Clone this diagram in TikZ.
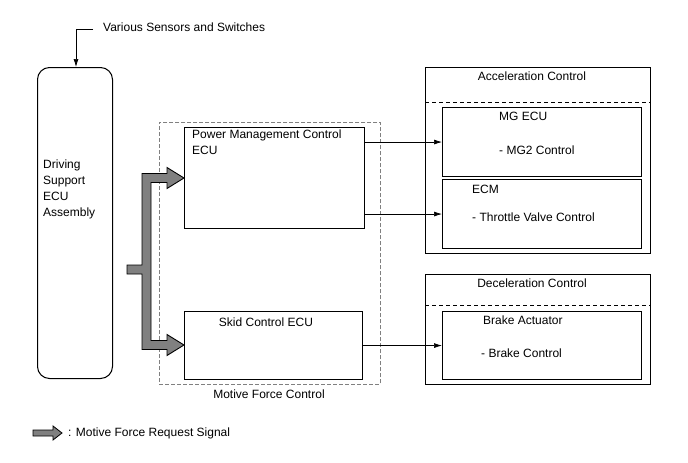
\documentclass[tikz,border=0pt]{standalone}
\usepackage{fontspec}
\setmainfont{Liberation Sans}
\usetikzlibrary{arrows.meta}
\begin{document}
\begin{tikzpicture}[x=1pt,y=-1pt,
  every node/.style={font=\fontsize{12}{16}\selectfont},
  txt/.style={inner sep=0pt, anchor=west},
  boxsty/.style={draw, line width=1.1pt, anchor=north west, inner sep=0pt},
  outersty/.style={draw, line width=0.9pt, anchor=north west, inner sep=0pt},
  conn/.style={line width=0.7pt, -{Latex[length=8pt,width=5pt]}},
  bigarrow/.style={draw=black, line width=0.9pt, fill=black!50, line join=miter}
]
\useasboundingbox (0,0) rectangle (688,463);

% top input label
\node[txt] (sens) at (103,27) {Various Sensors and Switches};

% Driving support ECU
\node[draw, line width=1pt, rounded corners=12pt, anchor=north west, minimum width=75pt, minimum height=311pt, inner sep=0pt] (dsecu) at (37,67) {};
\node[txt, align=left] (dstxt) at (43,189) {Driving\\Support\\ECU\\Assembly};
\coordinate (sensknee) at (76,29);
\draw[line width=0.7pt, -{Latex[length=8pt,width=5pt]}] ([xshift=-10pt]sens.west |- sensknee) -- (sensknee) -- (sensknee |- dsecu.north);

% Motive force control dashed group
\node[draw=black!50, dash pattern=on 4pt off 2pt, line width=0.8pt, anchor=north west, minimum width=221pt, minimum height=262pt, inner sep=0pt] (mfc) at (159,122) {};
\node[inner sep=0pt] (mfclbl) at (269,394) {Motive Force Control};

% PMC ECU
\node[boxsty, minimum width=180pt, minimum height=101pt] (pmc) at (184,127) {};
\node[txt, align=left, anchor=north west] (pmctxt) at (192,130) {Power Management Control\\ECU};

% Skid control ECU
\node[boxsty, minimum width=178pt, minimum height=68pt] (skid) at (184,311) {};
\node[inner sep=0pt] (skidtxt) at (266,322) {Skid Control ECU};

% Acceleration control
\node[outersty, minimum width=225pt, minimum height=186pt] (acc) at (425,67) {};
\node[inner sep=0pt] (acctxt) at (532,76) {Acceleration Control};
\draw[line width=0.8pt, dash pattern=on 4pt off 3pt] (acc.west |- 0,102) coordinate (accsepL) -- (acc.east |- accsepL);

\node[boxsty, minimum width=199pt, minimum height=69pt] (mg) at (442,107) {};
\node[txt] (mgtxt) at (499,116) {MG ECU};
\node[txt] (mg2txt) at (499,150) {- MG2 Control};

\node[boxsty, minimum width=199pt, minimum height=69pt] (ecm) at (442,179) {};
\node[txt] (ecmtxt) at (472,189) {ECM};
\node[txt] (thrtxt) at (472,217) {- Throttle Valve Control};

% Deceleration control
\node[outersty, minimum width=225pt, minimum height=110pt] (dec) at (425,274) {};
\node[inner sep=0pt] (dectxt) at (532,283) {Deceleration Control};
\draw[line width=0.8pt, dash pattern=on 4pt off 3pt] (dec.west |- 0,305) coordinate (decsepL) -- (dec.east |- decsepL);

\node[boxsty, minimum width=199pt, minimum height=68pt] (brake) at (442,311) {};
\node[txt] (braketxt) at (483,320) {Brake Actuator};
\node[txt] (bctxt) at (481,353) {- Brake Control};

% connectors
\draw[conn] (pmc.east |- mg.west) -- (mg.west);
\draw[conn] (pmc.east |- ecm.west) -- (ecm.west);
\draw[conn] (skid.east |- brake.west) -- (brake.west);

% big motive force request arrow
\draw[bigarrow] (127,265) -- (142,265) -- (142,173.5) -- (167,173.5) -- (167,167.5) -- (pmc.west |- 0,178) -- (167,188.5) -- (167,182.5) -- (151,182.5) -- (151,340.5) -- (167,340.5) -- (167,334.5) -- (skid.west |- 0,345) -- (167,355.5) -- (167,349.5) -- (142,349.5) -- (142,274) -- (127,274) -- cycle;

% legend
\draw[bigarrow, line width=0.8pt] (33,430) -- (53,430) -- (53,426) -- (62,433) -- (53,440) -- (53,436) -- (33,436) -- cycle;
\node[txt] (legtxt) at (68,433) {: Motive Force Request Signal};
\end{tikzpicture}
\end{document}
